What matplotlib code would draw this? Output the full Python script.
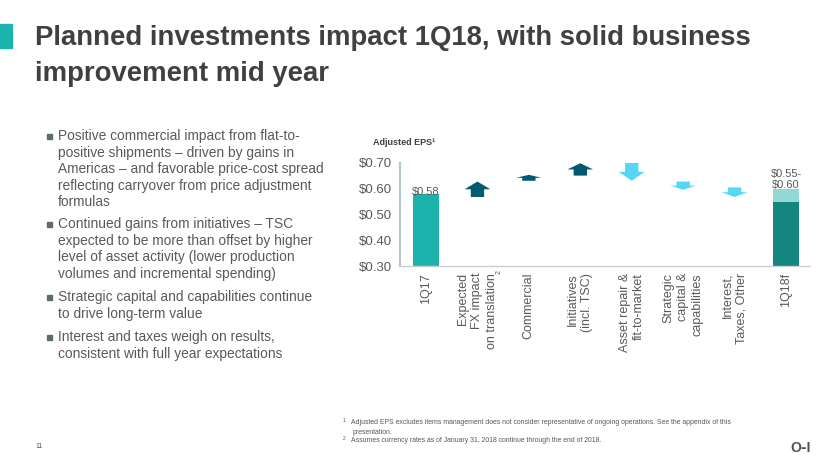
import matplotlib
matplotlib.use("Agg")
import matplotlib.pyplot as plt
from matplotlib.patches import Rectangle

plt.rcParams["font.family"] = ["Liberation Sans", "DejaVu Sans"]

# ----------------------
# data
# ----------------------
categories = [
    "1Q17",
    "Expected\nFX impact\non translation",
    "Commercial",
    "Initiatives\n(incl. TSC)",
    "Asset repair &\nfit-to-market",
    "Strategic\ncapital &\ncapabilities",
    "Interest,\nTaxes, Other",
    "1Q18f",
]
eps_1q17 = 0.58
eps_1q18_low = 0.55
eps_1q18_high = 0.60
step_start = [0.568, 0.631, 0.651, 0.700, 0.628, 0.605]
step_end = [0.628, 0.654, 0.699, 0.631, 0.596, 0.568]
yticks = [0.30, 0.40, 0.50, 0.60, 0.70]

bullets = [
    ["Positive commercial impact from flat-to-",
     "positive shipments \u2013 driven by gains in",
     "Americas \u2013 and favorable price-cost spread",
     "reflecting carryover from price adjustment",
     "formulas"],
    ["Continued gains from initiatives \u2013 TSC",
     "expected to be more than offset by higher",
     "level of asset activity (lower production",
     "volumes and incremental spending)"],
    ["Strategic capital and capabilities continue",
     "to drive long-term value"],
    ["Interest and taxes weigh on results,",
     "consistent with full year expectations"],
]

TEAL = "#1cb3ad"
DARK_TEAL = "#14857f"
LIGHT_TEAL = "#92d9d5"
UP = "#005b6e"
DOWN = "#55d6f7"
GRAY = "#595959"

W, H = 830, 467
fig = plt.figure(figsize=(8.3, 4.67), dpi=100)


def fx(px):
    return px / W


def fy(py):
    return 1 - py / H


# title + accent square
fig.patches.append(Rectangle((0, fy(48)), fx(12), 24 / H, transform=fig.transFigure,
                             color=TEAL, zorder=3))
fig.text(fx(35), fy(45), "Planned investments impact 1Q18, with solid business",
         fontsize=19.8, fontweight="bold", color="#404040", va="baseline")
fig.text(fx(35), fy(81), "improvement mid year",
         fontsize=19.8, fontweight="bold", color="#404040", va="baseline")

# bullets
para_y = [136, 224, 297, 337]
step = 16.6
for y0, lines in zip(para_y, bullets):
    fig.patches.append(Rectangle((fx(47), fy(y0 + 2.5)), fx(4.5), 4.5 / H,
                                 transform=fig.transFigure, color="#5f6b70"))
    for i, line in enumerate(lines):
        fig.text(fx(58), fy(y0 + i * step), line, fontsize=9.9, color=GRAY, va="center")

# ----------------------
# chart
# ----------------------
ax = fig.add_axes([fx(400), fy(266), fx(410), 103 / H])
x = list(range(len(categories)))

ax.bar(0, eps_1q17, width=0.5, color=TEAL, zorder=2)
ax.bar(7, eps_1q18_low, width=0.5, color=DARK_TEAL, zorder=2)
ax.bar(7, eps_1q18_high - eps_1q18_low, bottom=eps_1q18_low, width=0.5,
       color=LIGHT_TEAL, zorder=2)

for i, (s, e) in enumerate(zip(step_start, step_end), start=1):
    d = e - s
    ax.arrow(i, s, 0, d, width=0.26, head_width=0.5, head_length=abs(d) * 0.5,
             length_includes_head=True, color=UP if d > 0 else DOWN, lw=0, zorder=3)

ax.text(0, eps_1q17 + 0.008, f"${eps_1q17:.2f}", ha="center", va="center",
        fontsize=8, color=GRAY, zorder=4)
ax.text(7, eps_1q18_high - 0.004, f"${eps_1q18_low:.2f}-\n${eps_1q18_high:.2f}",
        ha="center", va="bottom", fontsize=8, color=GRAY, linespacing=1.15, zorder=4)

ax.set_xlim(-0.506, 7.467)
ax.set_ylim(0.30, 0.70)
ax.set_yticks(yticks)
ax.set_yticklabels([f"${v:.2f}" for v in yticks], fontsize=9.5, color=GRAY)
ax.set_xticks(x)
ax.set_xticklabels(categories, rotation=90, fontsize=9, color=GRAY,
                   multialignment="right", linespacing=1.25)
ax.tick_params(length=0, pad=6)
ax.tick_params(axis="x", pad=5)
for side in ["top", "right"]:
    ax.spines[side].set_visible(False)
ax.spines["left"].set_color("#b5c9cc")
ax.spines["left"].set_linewidth(1.6)
ax.spines["bottom"].set_color("#cccccc")
ax.spines["bottom"].set_linewidth(1.0)
ax.set_facecolor("none")

fig.text(fx(373), fy(142), "Adjusted EPS\u00b9", fontsize=6.5, fontweight="bold",
         color="#404040", va="center")
fig.text(fx(496), fy(272), "2", fontsize=5, color=GRAY, rotation=90, va="center")

# footnotes
fig.text(fx(343), fy(423), "1", fontsize=3.5, color=GRAY, va="bottom")
fig.text(fx(351), fy(423),
         "Adjusted EPS excludes items management does not consider representative of "
         "ongoing operations. See the appendix of this",
         fontsize=4.95, color=GRAY, va="center")
fig.text(fx(353), fy(432), "presentation.", fontsize=4.95, color=GRAY, va="center")
fig.text(fx(343), fy(441), "2", fontsize=3.5, color=GRAY, va="bottom")
fig.text(fx(351), fy(441),
         "Assumes currency rates as of January 31, 2018 continue through the end of 2018.",
         fontsize=4.95, color=GRAY, va="center")

fig.text(fx(35), fy(447), "11", fontsize=5, color=GRAY, va="center")
fig.text(fx(801), fy(448), "O\u2011I", fontsize=10, fontweight="bold", color="#505050",
         ha="center", va="center")

fig.savefig("out.png", dpi=100)
